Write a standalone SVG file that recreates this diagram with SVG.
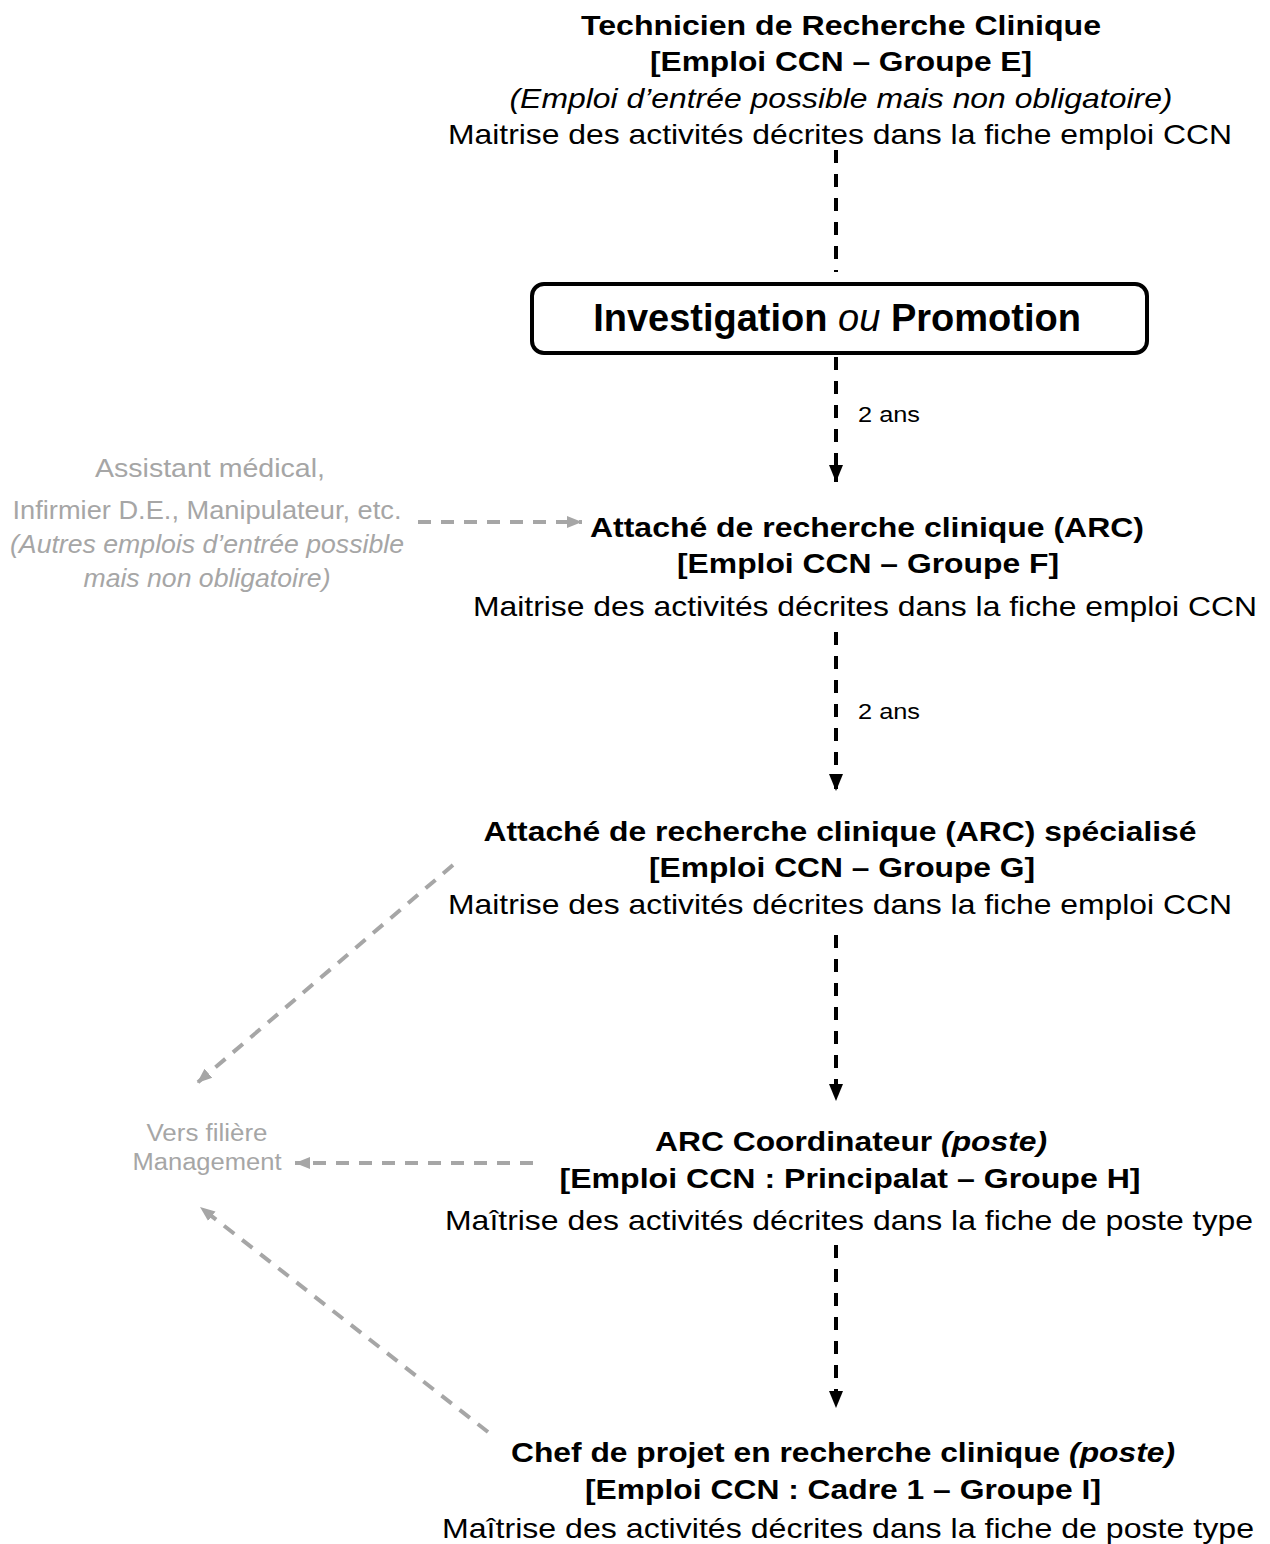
<svg xmlns="http://www.w3.org/2000/svg" width="1270" height="1544" viewBox="0 0 1270 1544">
<style>
text{font-family:"Liberation Sans",Arial,sans-serif;text-anchor:middle;fill:#000}
.t{font-size:28px;font-weight:bold}
.n{font-size:28px}
.i{font-style:italic}
.g{fill:#a6a6a6;font-size:25px}
.g2{fill:#a6a6a6;font-size:23px}
.s{font-size:22px;text-anchor:start}
.bk{stroke:#000;stroke-width:4;stroke-dasharray:13 11;fill:none}
.gr{stroke:#a6a6a6;stroke-width:4;stroke-dasharray:13 10;fill:none}
</style>
<defs>
<marker id="ag" markerWidth="16" markerHeight="14" refX="15" refY="7" orient="auto" markerUnits="userSpaceOnUse" viewBox="0 0 16 14"><path d="M0,1 L15,7 L0,13 z" fill="#a6a6a6"/></marker>
<marker id="ab" markerWidth="18" markerHeight="16" refX="17" refY="8" orient="auto" markerUnits="userSpaceOnUse" viewBox="0 0 18 16"><path d="M0,1 L17,8 L0,15 z" fill="#000"/></marker>
</defs>
<g id="connectors">
<line class="bk" x1="836" y1="150" x2="836" y2="272"/>
<line class="bk" x1="836" y1="357" x2="836" y2="482" marker-end="url(#ab)"/>
<line class="bk" x1="836" y1="632" x2="836" y2="791" marker-end="url(#ab)"/>
<line class="bk" x1="836" y1="935" x2="836" y2="1101" marker-end="url(#ab)"/>
<line class="bk" x1="836" y1="1245" x2="836" y2="1408" marker-end="url(#ab)"/>
<line class="gr" x1="418" y1="522" x2="582" y2="522" marker-end="url(#ag)"/>
<line class="gr" x1="453" y1="865" x2="197" y2="1083" marker-end="url(#ag)"/>
<line class="gr" x1="533" y1="1163" x2="295" y2="1163" marker-end="url(#ag)"/>
<line class="gr" x1="488" y1="1432" x2="200" y2="1207" marker-end="url(#ag)"/>
<text class="s" x="858" y="422" textLength="62" lengthAdjust="spacingAndGlyphs">2 ans</text>
<text class="s" x="858" y="719" textLength="62" lengthAdjust="spacingAndGlyphs">2 ans</text>
</g>
<g id="n-tec">
<text class="t" x="841" y="35" textLength="520" lengthAdjust="spacingAndGlyphs">Technicien de Recherche Clinique</text>
<text class="t" x="841" y="71" textLength="382" lengthAdjust="spacingAndGlyphs">[Emploi CCN – Groupe E]</text>
<text class="n i" x="841" y="108" textLength="663" lengthAdjust="spacingAndGlyphs">(Emploi d’entrée possible mais non obligatoire)</text>
<text class="n" x="840" y="144" textLength="784" lengthAdjust="spacingAndGlyphs">Maitrise des activités décrites dans la fiche emploi CCN</text>
</g>
<g id="n-box">
<rect x="532" y="284" width="615" height="69" rx="12" fill="#fff" stroke="#000" stroke-width="4"/>
<text x="837" y="331" style="font-size:38px;font-weight:bold">Investigation <tspan style="font-style:italic;font-weight:normal">ou</tspan> Promotion</text>
</g>
<g id="n-other">
<text class="g" x="210" y="477" textLength="230" lengthAdjust="spacingAndGlyphs">Assistant médical,</text>
<text class="g" x="207" y="519" textLength="389" lengthAdjust="spacingAndGlyphs">Infirmier D.E., Manipulateur, etc.</text>
<text class="g i" x="207" y="553" textLength="394" lengthAdjust="spacingAndGlyphs">(Autres emplois d’entrée possible</text>
<text class="g i" x="207" y="587" textLength="247" lengthAdjust="spacingAndGlyphs">mais non obligatoire)</text>
</g>
<g id="n-arc">
<text class="t" x="867" y="537" textLength="554" lengthAdjust="spacingAndGlyphs">Attaché de recherche clinique (ARC)</text>
<text class="t" x="868" y="573" textLength="382" lengthAdjust="spacingAndGlyphs">[Emploi CCN – Groupe F]</text>
<text class="n" x="865" y="616" textLength="784" lengthAdjust="spacingAndGlyphs">Maitrise des activités décrites dans la fiche emploi CCN</text>
</g>
<g id="n-arcs">
<text class="t" x="840" y="841" textLength="713" lengthAdjust="spacingAndGlyphs">Attaché de recherche clinique (ARC) spécialisé</text>
<text class="t" x="842" y="877" textLength="386" lengthAdjust="spacingAndGlyphs">[Emploi CCN – Groupe G]</text>
<text class="n" x="840" y="914" textLength="784" lengthAdjust="spacingAndGlyphs">Maitrise des activités décrites dans la fiche emploi CCN</text>
</g>
<g id="n-mgmt">
<text class="g2" x="207" y="1141" textLength="121" lengthAdjust="spacingAndGlyphs">Vers filière</text>
<text class="g2" x="207" y="1170" textLength="149" lengthAdjust="spacingAndGlyphs">Management</text>
</g>
<g id="n-coord">
<text class="t" x="851" y="1151" textLength="392" lengthAdjust="spacingAndGlyphs">ARC Coordinateur <tspan class="i">(poste)</tspan></text>
<text class="t" x="850" y="1188" textLength="581" lengthAdjust="spacingAndGlyphs">[Emploi CCN : Principalat – Groupe H]</text>
<text class="n" x="849" y="1230" textLength="808" lengthAdjust="spacingAndGlyphs">Maîtrise des activités décrites dans la fiche de poste type</text>
</g>
<g id="n-chef">
<text class="t" x="843" y="1462" textLength="664" lengthAdjust="spacingAndGlyphs">Chef de projet en recherche clinique <tspan class="i">(poste)</tspan></text>
<text class="t" x="843" y="1499" textLength="516" lengthAdjust="spacingAndGlyphs">[Emploi CCN : Cadre 1 – Groupe I]</text>
<text class="n" x="848" y="1538" textLength="812" lengthAdjust="spacingAndGlyphs">Maîtrise des activités décrites dans la fiche de poste type</text>
</g>
</svg>
